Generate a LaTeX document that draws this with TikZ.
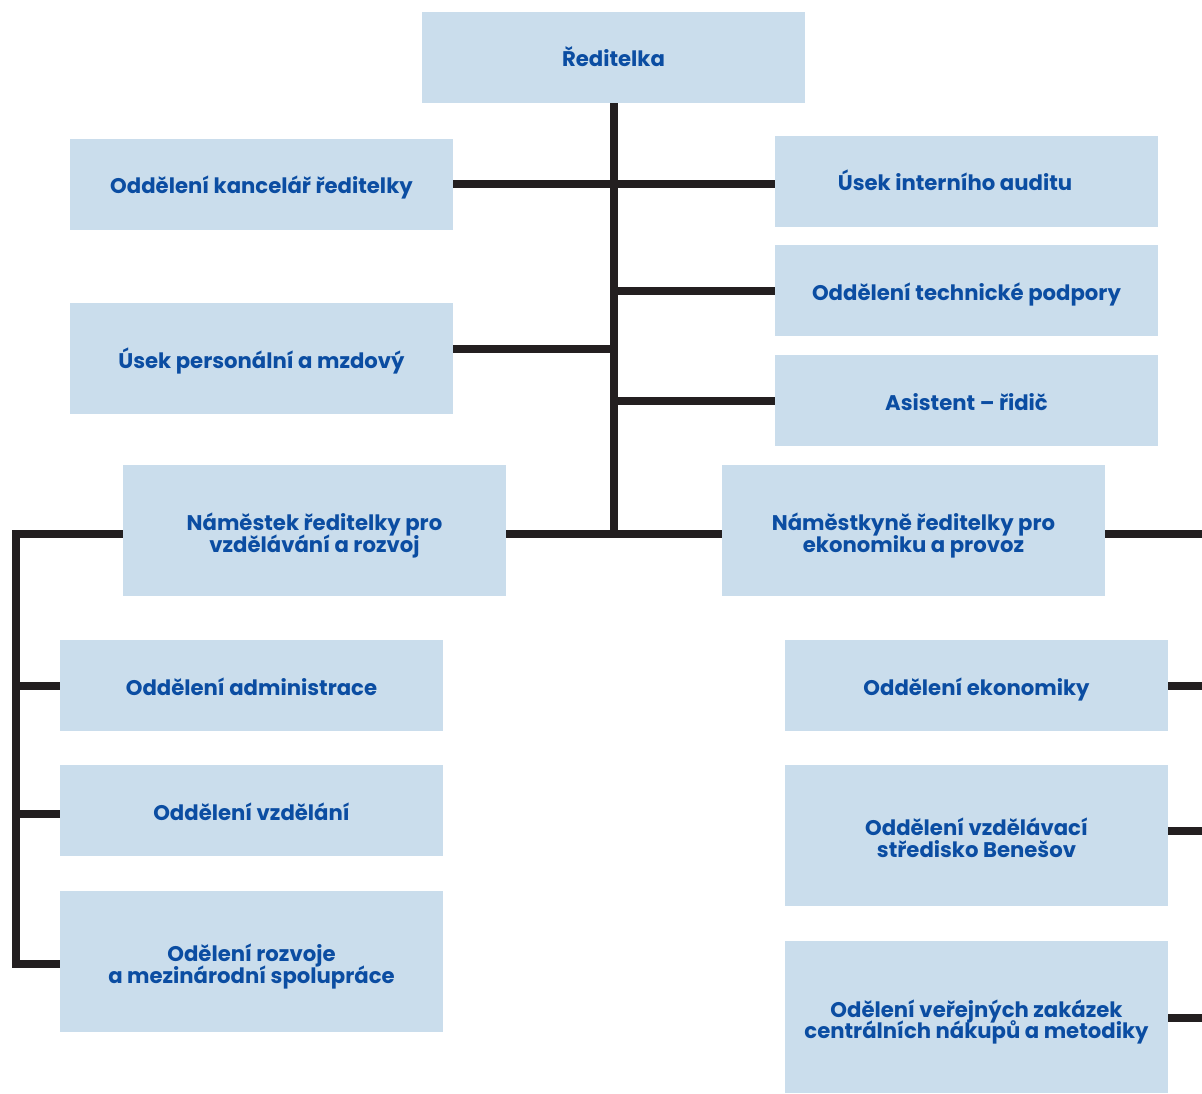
\documentclass[tikz,border=0pt]{standalone}
\usepackage{fontspec}
\setmainfont{Poppins}
\definecolor{boxblue}{HTML}{CADDEC}
\definecolor{textblue}{HTML}{0B4DA2}
\definecolor{linec}{HTML}{231F20}
\newcommand\orgfont{\bfseries\fontsize{21.2}{21.5}\selectfont\setlength{\lineskiplimit}{-30pt}\setlength{\lineskip}{0pt}}
\tikzset{
  orgbox/.style={fill=boxblue, text=textblue, font=\orgfont,
    align=center, inner sep=0pt, minimum width=383pt, minimum height=#1,
    text height=24pt, text depth=5pt},
  orgbox/.default=91pt,
  twoline/.style={text height=48pt, text depth=5pt},
  conn/.style={draw=linec, line width=8pt, line join=miter}
}
\begin{document}
\begin{tikzpicture}[x=1pt,y=-1pt]
\useasboundingbox (0,0) rectangle (1202,1094);
\node[orgbox] (reditelka) at (613.5,57.5) {Ředitelka};
\node[orgbox] (kancelar) at (261.5,184.5) {Oddělení kancelář ředitelky};
\node[orgbox] (audit) at (966.5,181.5) {\hspace*{-23pt}Úsek interního auditu};
\node[orgbox] (technicke) at (966.5,290.5) {Oddělení technické podpory};
\node[orgbox] (asistent) at (966.5,400.5) {Asistent – řidič};
\node[orgbox=111pt] (personal) at (261.5,358.5) {Úsek personální a mzdový};
\node[orgbox=131pt, twoline] (namestek) at (314.5,530.5) {Náměstek ředitelky pro\\vzdělávání a rozvoj};
\node[orgbox=131pt, twoline] (namestkyne) at (913.5,530.5) {Náměstkyně ředitelky pro\\ekonomiku a provoz};
\node[orgbox] (administrace) at (251.5,685.5) {Oddělení administrace};
\node[orgbox] (vzdelani) at (251.5,810.5) {Oddělení vzdělání};
\node[orgbox=141pt, twoline] (rozvoje) at (251.5,961.5) {Odělení rozvoje\\a mezinárodní spolupráce};
\node[orgbox] (ekonomiky) at (976.5,685.5) {Oddělení ekonomiky};
\node[orgbox=141pt, twoline] (stredisko) at (976.5,835.5) {Oddělení vzdělávací\\středisko Benešov};
\node[orgbox=152pt, twoline] (verejnych) at (976.5,1017) {Odělení veřejných zakázek\\centrálních nákupů a metodiky};
% junctions
\coordinate (j1) at (614,184);
\coordinate (j2) at (614,291);
\coordinate (j3) at (614,349);
\coordinate (j4) at (614,401);
\coordinate (jb) at (614,534);
\coordinate (lt) at (16,534);
\coordinate (l1) at (16,686);
\coordinate (l2) at (16,814);
\coordinate (lb) at (16,964);
\coordinate (rt) at (1202,534);
\coordinate (r1) at (1202,686);
\coordinate (r2) at (1202,831);
\coordinate (r3) at (1202,1018);
% connectors
\draw[conn] (reditelka.south -| jb) -- (jb);
\draw[conn] (kancelar.east |- j1) -- (audit.west |- j1);
\draw[conn] (j2) -- (technicke.west |- j2);
\draw[conn] (personal.east |- j3) -- (j3);
\draw[conn] (j4) -- (asistent.west |- j4);
\draw[conn] (namestek.east |- jb) -- (namestkyne.west |- jb);
\draw[conn] (namestek.west |- jb) -- (lt) -- (lb) -- (rozvoje.west |- lb);
\draw[conn] (l1) -- (administrace.west |- l1);
\draw[conn] (l2) -- (vzdelani.west |- l2);
\draw[conn] (namestkyne.east |- rt) -- (rt);
\draw[conn] (ekonomiky.east |- r1) -- (r1);
\draw[conn] (stredisko.east |- r2) -- (r2);
\draw[conn] (verejnych.east |- r3) -- (r3);
\end{tikzpicture}
\end{document}
